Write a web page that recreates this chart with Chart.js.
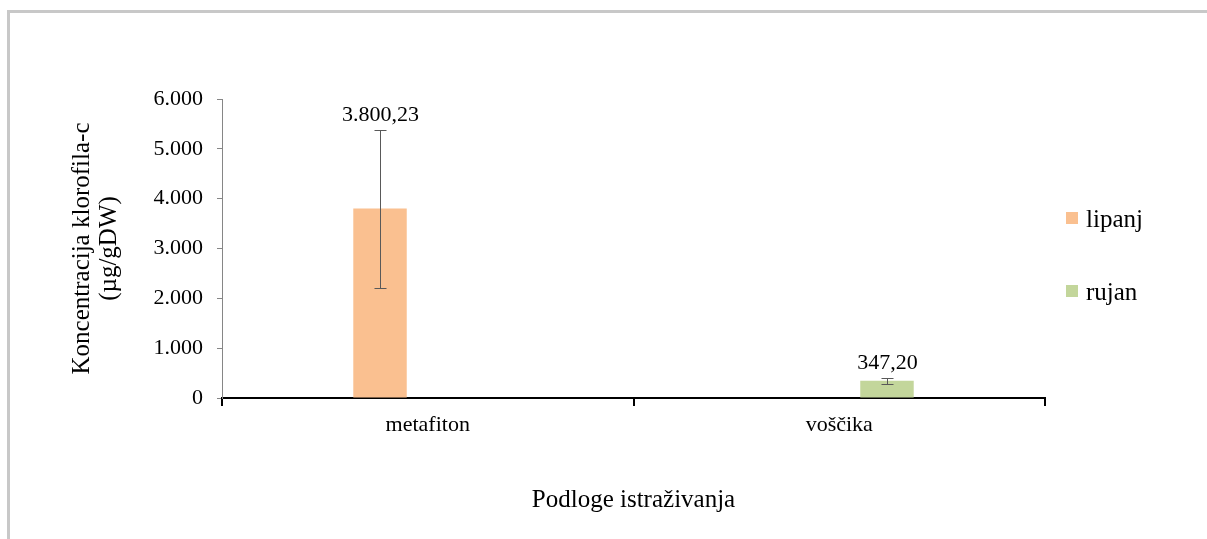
<!DOCTYPE html>
<html>
<head>
<meta charset="utf-8">
<title>Koncentracija klorofila-c</title>
<script src="https://cdn.jsdelivr.net/npm/chart.js@4.4.1/dist/chart.umd.min.js"></script>
<style>
    html, body { margin: 0; padding: 0; background: #fff; }
    #wrap { position: relative; width: 1207px; height: 539px; overflow: hidden; }
    /* grey frame round the chart (only top and left edges are visible) */
    #frame {
        position: absolute; left: 7px; top: 10px; right: -10px; bottom: -10px;
        border-top: 3px solid #c8c8c8; border-left: 3px solid #c8c8c8;
    }
    canvas { position: absolute; left: 0; top: 0; }
</style>
</head>
<body>
<div id="wrap">
    <div id="frame"></div>
    <canvas id="chlorophyllChart" width="1207" height="539"></canvas>
</div>
<script>
// Data
const categories = ['metafiton', 'voščika'];
const seriesNames = ['lipanj', 'rujan'];
const lipanjValues = [3800.23, null];
const rujanValues = [null, 347.20];
const lipanjErrors = [1585, null];
const rujanErrors = [null, 60];
const yTickValues = [0, 1000, 2000, 3000, 4000, 5000, 6000];

const FONT = '"Liberation Serif", "Times New Roman", serif';
const seriesColors = ['#FAC090', '#C3D69B'];

Chart.defaults.font.family = FONT;
Chart.defaults.color = '#000';

// 6000 -> "6.000"
function formatThousands(n) {
    return String(Math.round(n)).replace(/\B(?=(\d{3})+(?!\d))/g, '.');
}

// 3800.23 -> "3.800,23"
function formatValue(n) {
    const parts = n.toFixed(2).split('.');
    return formatThousands(+parts[0]) + ',' + parts[1];
}

// Error bars plus value labels above them
const errorBarPlugin = {
    id: 'errorBars',
    afterDatasetsDraw(chart) {
        const ctx = chart.ctx;
        const yScale = chart.scales.y;
        chart.data.datasets.forEach((ds, di) => {
            const meta = chart.getDatasetMeta(di);
            meta.data.forEach((bar, i) => {
                const v = ds.data[i];
                const err = ds.errors[i];
                if (v == null) return;
                const x = Math.round(bar.x) + 0.5;
                const top = Math.round(yScale.getPixelForValue(v + err)) + 0.5;
                const bottom = Math.round(yScale.getPixelForValue(v - err)) + 0.5;

                ctx.save();
                ctx.strokeStyle = '#595959';
                ctx.lineWidth = 1;
                ctx.beginPath();
                ctx.moveTo(x, top);
                ctx.lineTo(x, bottom);
                ctx.moveTo(x - 6, top);
                ctx.lineTo(x + 6, top);
                ctx.moveTo(x - 6, bottom);
                ctx.lineTo(x + 6, bottom);
                ctx.stroke();

                ctx.fillStyle = '#000';
                ctx.font = '22px ' + FONT;
                ctx.textAlign = 'center';
                ctx.textBaseline = 'alphabetic';
                ctx.fillText(formatValue(v), x, top - 10);
                ctx.restore();
            });
        });
    }
};

// Legend on the right, one entry per series, widely spaced
const sideLegendPlugin = {
    id: 'sideLegend',
    afterDraw(chart) {
        const ctx = chart.ctx;
        const area = chart.chartArea;
        const boxX = area.right + 21;
        const firstBoxY = 212;
        const gap = 73;
        ctx.save();
        ctx.font = '25px ' + FONT;
        ctx.textAlign = 'left';
        ctx.textBaseline = 'alphabetic';
        chart.data.datasets.forEach((ds, i) => {
            const y = firstBoxY + i * gap;
            ctx.fillStyle = ds.backgroundColor;
            ctx.fillRect(boxX, y, 12, 12);
            ctx.fillStyle = '#000';
            ctx.fillText(ds.label, boxX + 20, y + 14.5);
        });
        ctx.restore();
    }
};

new Chart(document.getElementById('chlorophyllChart'), {
    type: 'bar',
    data: {
        labels: categories,
        datasets: [
            {
                label: seriesNames[0],
                data: lipanjValues,
                errors: lipanjErrors,
                backgroundColor: seriesColors[0],
                categoryPercentage: 0.464,
                barPercentage: 0.56
            },
            {
                label: seriesNames[1],
                data: rujanValues,
                errors: rujanErrors,
                backgroundColor: seriesColors[1],
                categoryPercentage: 0.464,
                barPercentage: 0.56
            }
        ]
    },
    options: {
        responsive: false,
        animation: false,
        devicePixelRatio: 1,
        layout: {
            padding: { top: 99, right: 162, bottom: 0, left: 0 }
        },
        plugins: {
            legend: { display: false },
            tooltip: { enabled: false }
        },
        scales: {
            x: {
                grid: {
                    offset: true,
                    drawOnChartArea: false,
                    drawTicks: true,
                    tickLength: 8,
                    color: '#000',
                    lineWidth: 2
                },
                border: { color: '#000', width: 2 },
                ticks: {
                    font: { size: 22 },
                    color: '#000',
                    padding: 6
                },
                title: {
                    display: true,
                    text: 'Podloge istraživanja',
                    font: { size: 25, lineHeight: 1.08 },
                    color: '#000',
                    padding: { top: 0, bottom: 25 }
                },
                afterFit: scale => { scale.height = 141; }
            },
            y: {
                min: 0,
                max: 6000,
                afterBuildTicks: axis => {
                    axis.ticks = yTickValues.map(v => ({ value: v }));
                },
                grid: {
                    drawOnChartArea: false,
                    tickLength: 5,
                    color: '#868686'
                },
                border: { color: '#868686', width: 1 },
                ticks: {
                    font: { size: 22 },
                    color: '#000',
                    padding: 14,
                    callback: v => formatThousands(v)
                },
                title: {
                    display: true,
                    text: ['Koncentracija klorofila-c', '(µg/gDW)'],
                    font: { size: 25, lineHeight: 1.08 },
                    color: '#000',
                    padding: { top: 69, bottom: 0 }
                },
                afterFit: scale => { scale.width = 222; }
            }
        }
    },
    plugins: [errorBarPlugin, sideLegendPlugin]
});
</script>
</body>
</html>
